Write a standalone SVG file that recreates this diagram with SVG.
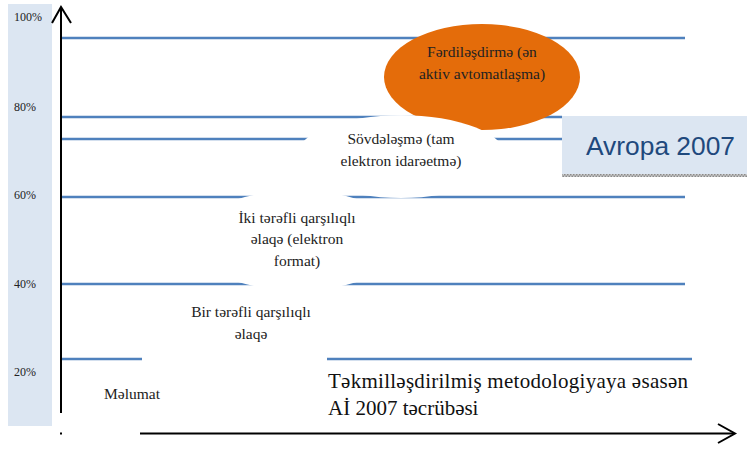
<svg xmlns="http://www.w3.org/2000/svg" width="747" height="450" viewBox="0 0 747 450">
<defs>
<style>
.grid{stroke:#4f81bd;stroke-width:2.5;fill:none}
.axis{stroke:#000;stroke-width:2;fill:none}
.pct{font-family:"Liberation Serif","DejaVu Serif",serif;font-size:12px;fill:#222}
.lbl{font-family:"Liberation Serif","DejaVu Serif",serif;font-size:15.5px;fill:#222;text-anchor:middle}
.big{font-family:"Liberation Serif","DejaVu Serif",serif;font-size:21px;fill:#111}
.cover{fill:#fff;stroke:none}
</style>
<pattern id="dots" width="3" height="3" patternUnits="userSpaceOnUse">
<rect width="3" height="3" fill="#d0d0d0"/>
<rect width="1.5" height="1.5" fill="#8a8a8a"/>
<rect x="1.5" y="1.5" width="1.5" height="1.5" fill="#8a8a8a"/>
</pattern>
</defs>
<rect width="747" height="450" fill="#fff"/>
<g id="scale">
<rect x="8" y="4" width="44" height="422" fill="#dce6f2"/>
<text class="pct" x="14" y="21">100%</text>
<text class="pct" x="14" y="111">80%</text>
<text class="pct" x="14" y="199">60%</text>
<text class="pct" x="14" y="288">40%</text>
<text class="pct" x="14" y="376">20%</text>
</g>
<g id="connectors">
<line class="grid" x1="61" y1="38" x2="685" y2="38"/>
<line class="grid" x1="61" y1="117" x2="562" y2="117"/>
<line class="grid" x1="61" y1="139" x2="562" y2="139"/>
<line class="grid" x1="61" y1="197" x2="685" y2="197"/>
<line class="grid" x1="61" y1="284" x2="685" y2="284"/>
<line class="grid" x1="61" y1="359" x2="142" y2="359"/>
<line class="grid" x1="327" y1="359" x2="692" y2="359"/>
<line class="axis" x1="61" y1="8" x2="61" y2="413"/>
<polyline class="axis" points="52,23 61,7 71,23"/>
<line class="axis" x1="140" y1="433.5" x2="734" y2="433.5"/>
<polyline class="axis" points="718,424 735,433.5 718,443"/>
<line class="axis" x1="60" y1="433.5" x2="62" y2="433.5"/>
</g>
<g id="node-ferdilesdirme">
<ellipse cx="482" cy="77" rx="98" ry="53" fill="#e46c0a"/>
<text class="lbl" x="482" y="57">Fərdiləşdirmə (ən</text>
<text class="lbl" x="482" y="79">aktiv avtomatlaşma)</text>
</g>
<g id="node-sovdelesme">
<ellipse class="cover" cx="401" cy="156.6" rx="105" ry="41.4"/>
<text class="lbl" x="401" y="144">Sövdələşmə (tam</text>
<text class="lbl" x="401" y="166">elektron idarəetmə)</text>
</g>
<g id="node-iki">
<ellipse class="cover" cx="297.5" cy="240.5" rx="106.5" ry="50"/>
<text class="lbl" x="297" y="223">İki tərəfli qarşılıqlı</text>
<text class="lbl" x="297" y="244">əlaqə (elektron</text>
<text class="lbl" x="297" y="266">format)</text>
</g>
<g id="node-bir">
<text class="lbl" x="251" y="317">Bir tərəfli qarşılıqlı</text>
<text class="lbl" x="251" y="339">əlaqə</text>
</g>
<g id="node-melumat">
<text class="lbl" x="132" y="399">Məlumat</text>
</g>
<g id="node-avropa">
<rect x="562" y="116" width="185" height="58" fill="#dce6f2"/>
<rect x="562" y="174" width="185" height="3" fill="url(#dots)"/>
<text x="586" y="155" font-family="Liberation Sans, Arial, sans-serif" font-size="26" fill="#1f497d" textLength="149" lengthAdjust="spacingAndGlyphs">Avropa 2007</text>
</g>
<g id="caption">
<text class="big" x="328" y="388" textLength="360" lengthAdjust="spacing">Təkmilləşdirilmiş metodologiyaya əsasən</text>
<text class="big" x="328" y="415">Aİ 2007 təcrübəsi</text>
</g>
</svg>
